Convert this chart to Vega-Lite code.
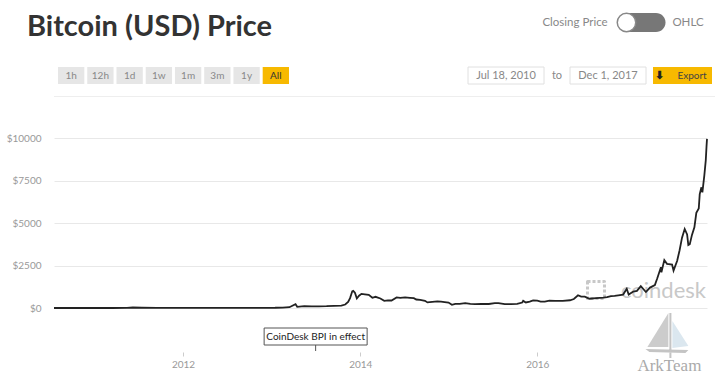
{
  "$schema": "https://vega.github.io/schema/vega-lite/v6.json",
  "background": "white",
  "padding": {"left": 6, "top": 0, "right": 0, "bottom": 0},
  "config": {"view": {"stroke": null}, "font": "Lato"},
  "spacing": 13,
  "vconcat": [
    {
      "spacing": 10,
      "hconcat": [
        {
          "width": 476,
          "height": 53,
          "data": {"values": [{"heading": "Bitcoin (USD) Price"}]},
          "mark": {"type": "text", "align": "left", "baseline": "middle", "dx": -27, "fontSize": 29, "fontWeight": "bold", "color": "#333333"},
          "encoding": {
            "x": {"field": "heading", "type": "nominal", "axis": null, "bandPosition": 0, "scale": {"type": "band", "paddingInner": 0, "paddingOuter": 0}},
            "text": {"field": "heading"}
          }
        },
        {
          "spacing": 4,
          "hconcat": [
            {
              "width": 70,
              "height": 45,
              "data": {"values": [{"label": "Closing Price"}]},
              "mark": {"type": "text", "baseline": "middle", "fontSize": 11.5, "color": "#888888"},
              "encoding": {"text": {"field": "label"}}
            },
            {
              "width": 49,
              "height": 45,
              "data": {"values": [{"control": "toggle", "state": "closing"}]},
              "layer": [
                {
                  "mark": {"type": "point", "shape": "M-14.5,-9.5H14.5A9.5,9.5 0 0 1 14.5,9.5H-14.5A9.5,9.5 0 0 1 -14.5,-9.5Z", "size": 4, "filled": true, "fill": "#777777", "strokeWidth": 0, "opacity": 1},
                  "encoding": {}
                },
                {
                  "mark": {"type": "point", "shape": "circle", "size": 342, "filled": true, "fill": "white", "stroke": "#888888", "strokeWidth": 1.5, "xOffset": -15, "opacity": 1},
                  "encoding": {}
                }
              ]
            },
            {
              "width": 36,
              "height": 45,
              "data": {"values": [{"label": "OHLC"}]},
              "mark": {"type": "text", "baseline": "middle", "fontSize": 11.5, "color": "#888888"},
              "encoding": {"text": {"field": "label"}}
            }
          ]
        }
      ]
    },
    {
      "spacing": 11,
      "vconcat": [
        {
          "spacing": 178,
          "hconcat": [
            {
              "width": 235,
              "height": 17,
              "data": {"values": [
                {"range": "1h", "state": "off"},
                {"range": "12h", "state": "off"},
                {"range": "1d", "state": "off"},
                {"range": "1w", "state": "off"},
                {"range": "1m", "state": "off"},
                {"range": "3m", "state": "off"},
                {"range": "1y", "state": "off"},
                {"range": "All", "state": "on"}
              ]},
              "encoding": {
                "x": {"field": "range", "type": "nominal", "sort": null, "axis": null, "scale": {"type": "band", "paddingInner": 0.1, "paddingOuter": 0.0684, "align": 1}}
              },
              "layer": [
                {
                  "mark": {"type": "rect"},
                  "encoding": {"color": {"field": "state", "type": "nominal", "legend": null, "scale": {"domain": ["off", "on"], "range": ["#e6e6e6", "#f7b900"]}}}
                },
                {
                  "mark": {"type": "text", "fontSize": 10, "baseline": "middle"},
                  "encoding": {
                    "text": {"field": "range"},
                    "color": {"condition": {"test": "datum.state === 'on'", "value": "#333333"}, "value": "#888888"}
                  }
                }
              ]
            },
            {
              "spacing": 6,
              "hconcat": [
                {
                  "width": 76,
                  "height": 17,
                  "data": {"values": [{"label": "Jul 18, 2010"}]},
                  "layer": [
                    {"mark": {"type": "rect", "fill": "white", "stroke": "#e0e0e0", "strokeWidth": 1}, "encoding": {}},
                    {"mark": {"type": "text", "fontSize": 11, "baseline": "middle", "color": "#888888"}, "encoding": {"text": {"field": "label"}}}
                  ]
                },
                {
                  "width": 12,
                  "height": 17,
                  "data": {"values": [{"label": "to"}]},
                  "mark": {"type": "text", "fontSize": 11, "baseline": "middle", "color": "#888888"},
                  "encoding": {"text": {"field": "label"}}
                },
                {
                  "width": 76,
                  "height": 17,
                  "data": {"values": [{"label": "Dec 1, 2017"}]},
                  "layer": [
                    {"mark": {"type": "rect", "fill": "white", "stroke": "#e0e0e0", "strokeWidth": 1}, "encoding": {}},
                    {"mark": {"type": "text", "fontSize": 11, "baseline": "middle", "color": "#888888"}, "encoding": {"text": {"field": "label"}}}
                  ]
                },
                {
                  "width": 59,
                  "height": 17,
                  "data": {"values": [{"label": "Export", "icon": "⬇"}]},
                  "layer": [
                    {"mark": {"type": "rect", "fill": "#f7b900"}, "encoding": {}},
                    {"mark": {"type": "text", "fontSize": 11, "fontWeight": "bold", "baseline": "middle", "color": "#222222", "dx": -23.5}, "encoding": {"text": {"field": "icon"}}},
                    {"mark": {"type": "text", "fontSize": 10, "baseline": "middle", "color": "#444444", "dx": 9.5}, "encoding": {"text": {"field": "label"}}}
                  ]
                }
              ]
            }
          ]
        },
        {
          "spacing": 36,
          "vconcat": [
            {
              "width": 661,
              "height": 1,
              "data": {"values": [{"part": "separator"}]},
              "mark": {"type": "rect", "color": "#eeeeee"},
              "encoding": {}
            },
            {
              "width": 653,
              "height": 170,
              "layer": [
                {
                  "data": {"values": [{"watermark": "coindesk"}]},
                  "mark": {"type": "text", "align": "right", "baseline": "alphabetic", "fontSize": 22, "color": "#c8c8c8", "dx": -1, "dy": -10.5},
                  "encoding": {
                    "x": {"datum": {"year": 2017, "month": 12, "date": 1}, "type": "temporal", "axis": {"title": null}},
                    "y": {"datum": 0, "type": "quantitative", "axis": {"title": null}},
                    "text": {"field": "watermark"}
                  }
                },
                {
                  "data": {"values": [{"watermark": "coindesk logo"}]},
                  "mark": {"type": "point", "shape": "square", "size": 289, "filled": false, "stroke": "#c8c8c8", "strokeWidth": 3, "strokeDash": [3, 2], "strokeJoin": "round", "opacity": 1, "xOffset": -111, "yOffset": -18},
                  "encoding": {
                    "x": {"datum": {"year": 2017, "month": 12, "date": 1}, "type": "temporal", "axis": {"title": null}},
                    "y": {"datum": 0, "type": "quantitative", "axis": {"title": null}}
                  }
                },
                {
                  "data": {"values": [{"watermark": "sail"}]},
                  "mark": {"type": "point", "shape": "M0,-21L-21,13L0,13Z", "size": 4, "filled": true, "fill": "#cccccc", "strokeWidth": 0, "opacity": 1, "xOffset": -38.6, "yOffset": 26},
                  "encoding": {
                    "x": {"datum": {"year": 2017, "month": 12, "date": 1}, "type": "temporal", "axis": {"title": null}},
                    "y": {"datum": 0, "type": "quantitative", "axis": {"title": null}}
                  }
                },
                {
                  "data": {"values": [{"watermark": "sail2"}]},
                  "mark": {"type": "point", "shape": "M4,-13L4,14L20,12Z", "size": 4, "filled": true, "fill": "#dbe7ef", "strokeWidth": 0, "opacity": 1, "xOffset": -38.6, "yOffset": 26},
                  "encoding": {
                    "x": {"datum": {"year": 2017, "month": 12, "date": 1}, "type": "temporal", "axis": {"title": null}},
                    "y": {"datum": 0, "type": "quantitative", "axis": {"title": null}}
                  }
                },
                {
                  "data": {"values": [{"watermark": "hull"}]},
                  "mark": {"type": "point", "shape": "M-23,15L20,16L17,19L-19,18Z M1,-21L3,-21L3,24L1,24Z", "size": 4, "filled": true, "fill": "#c4c4c4", "strokeWidth": 0, "opacity": 1, "xOffset": -38.6, "yOffset": 26},
                  "encoding": {
                    "x": {"datum": {"year": 2017, "month": 12, "date": 1}, "type": "temporal", "axis": {"title": null}},
                    "y": {"datum": 0, "type": "quantitative", "axis": {"title": null}}
                  }
                },
                {
                  "data": {"values": [{"watermark": "ArkTeam"}]},
                  "mark": {"type": "text", "align": "center", "baseline": "alphabetic", "font": "Liberation Serif", "fontSize": 17, "color": "#aaaaaa", "dx": -37.6, "dy": 63},
                  "encoding": {
                    "x": {"datum": {"year": 2017, "month": 12, "date": 1}, "type": "temporal", "axis": {"title": null}},
                    "y": {"datum": 0, "type": "quantitative", "axis": {"title": null}},
                    "text": {"field": "watermark"}
                  }
                },
                {
                  "data": {"values": [
                    {"date": "2010-07-18", "price": 0.09},
                    {"date": "2010-09-15", "price": 0.06},
                    {"date": "2010-11-15", "price": 0.27},
                    {"date": "2011-01-15", "price": 0.4},
                    {"date": "2011-03-15", "price": 0.86},
                    {"date": "2011-05-15", "price": 7},
                    {"date": "2011-06-08", "price": 29.6},
                    {"date": "2011-07-15", "price": 14},
                    {"date": "2011-09-15", "price": 5},
                    {"date": "2011-11-15", "price": 3},
                    {"date": "2012-01-15", "price": 6.5},
                    {"date": "2012-03-15", "price": 5},
                    {"date": "2012-05-15", "price": 5},
                    {"date": "2012-07-15", "price": 8},
                    {"date": "2012-08-17", "price": 13},
                    {"date": "2012-09-15", "price": 11},
                    {"date": "2012-11-15", "price": 11},
                    {"date": "2013-01-15", "price": 14},
                    {"date": "2013-02-15", "price": 26},
                    {"date": "2013-03-15", "price": 47},
                    {"date": "2013-04-09", "price": 230},
                    {"date": "2013-04-16", "price": 70},
                    {"date": "2013-05-15", "price": 115},
                    {"date": "2013-06-15", "price": 100},
                    {"date": "2013-07-15", "price": 98},
                    {"date": "2013-08-15", "price": 105},
                    {"date": "2013-09-15", "price": 126},
                    {"date": "2013-10-15", "price": 145},
                    {"date": "2013-10-31", "price": 204},
                    {"date": "2013-11-12", "price": 355},
                    {"date": "2013-11-20", "price": 580},
                    {"date": "2013-11-29", "price": 980},
                    {"date": "2013-12-03", "price": 1010},
                    {"date": "2013-12-10", "price": 900},
                    {"date": "2013-12-18", "price": 560},
                    {"date": "2013-12-27", "price": 720},
                    {"date": "2014-01-06", "price": 830},
                    {"date": "2014-01-20", "price": 800},
                    {"date": "2014-02-05", "price": 770},
                    {"date": "2014-02-20", "price": 600},
                    {"date": "2014-03-05", "price": 660},
                    {"date": "2014-03-25", "price": 560},
                    {"date": "2014-04-10", "price": 420},
                    {"date": "2014-04-25", "price": 450},
                    {"date": "2014-05-10", "price": 440},
                    {"date": "2014-05-31", "price": 620},
                    {"date": "2014-06-15", "price": 600},
                    {"date": "2014-07-05", "price": 630},
                    {"date": "2014-07-25", "price": 600},
                    {"date": "2014-08-10", "price": 580},
                    {"date": "2014-08-20", "price": 500},
                    {"date": "2014-09-05", "price": 480},
                    {"date": "2014-09-25", "price": 420},
                    {"date": "2014-10-05", "price": 330},
                    {"date": "2014-10-25", "price": 360},
                    {"date": "2014-11-15", "price": 390},
                    {"date": "2014-11-30", "price": 375},
                    {"date": "2014-12-15", "price": 350},
                    {"date": "2014-12-31", "price": 320},
                    {"date": "2015-01-14", "price": 190},
                    {"date": "2015-01-28", "price": 245},
                    {"date": "2015-02-15", "price": 240},
                    {"date": "2015-03-10", "price": 290},
                    {"date": "2015-03-31", "price": 245},
                    {"date": "2015-04-20", "price": 225},
                    {"date": "2015-05-15", "price": 237},
                    {"date": "2015-06-15", "price": 235},
                    {"date": "2015-07-10", "price": 290},
                    {"date": "2015-07-25", "price": 290},
                    {"date": "2015-08-20", "price": 230},
                    {"date": "2015-09-15", "price": 230},
                    {"date": "2015-10-10", "price": 245},
                    {"date": "2015-10-31", "price": 320},
                    {"date": "2015-11-04", "price": 420},
                    {"date": "2015-11-15", "price": 325},
                    {"date": "2015-12-01", "price": 370},
                    {"date": "2015-12-15", "price": 450},
                    {"date": "2016-01-01", "price": 430},
                    {"date": "2016-01-15", "price": 380},
                    {"date": "2016-02-01", "price": 375},
                    {"date": "2016-02-20", "price": 430},
                    {"date": "2016-03-15", "price": 415},
                    {"date": "2016-04-15", "price": 425},
                    {"date": "2016-05-15", "price": 455},
                    {"date": "2016-05-31", "price": 530},
                    {"date": "2016-06-17", "price": 750},
                    {"date": "2016-06-30", "price": 670},
                    {"date": "2016-07-15", "price": 665},
                    {"date": "2016-08-03", "price": 545},
                    {"date": "2016-08-31", "price": 575},
                    {"date": "2016-09-30", "price": 610},
                    {"date": "2016-10-15", "price": 640},
                    {"date": "2016-10-31", "price": 700},
                    {"date": "2016-11-15", "price": 710},
                    {"date": "2016-11-30", "price": 742},
                    {"date": "2016-12-20", "price": 790},
                    {"date": "2017-01-04", "price": 1130},
                    {"date": "2017-01-12", "price": 790},
                    {"date": "2017-01-31", "price": 970},
                    {"date": "2017-02-15", "price": 1010},
                    {"date": "2017-03-03", "price": 1280},
                    {"date": "2017-03-24", "price": 940},
                    {"date": "2017-04-10", "price": 1200},
                    {"date": "2017-04-30", "price": 1350},
                    {"date": "2017-05-10", "price": 1750},
                    {"date": "2017-05-25", "price": 2400},
                    {"date": "2017-05-27", "price": 2100},
                    {"date": "2017-06-08", "price": 2820},
                    {"date": "2017-06-19", "price": 2600},
                    {"date": "2017-07-10", "price": 2550},
                    {"date": "2017-07-16", "price": 2200},
                    {"date": "2017-07-31", "price": 2780},
                    {"date": "2017-08-10", "price": 3400},
                    {"date": "2017-08-20", "price": 4140},
                    {"date": "2017-08-31", "price": 4650},
                    {"date": "2017-09-10", "price": 4330},
                    {"date": "2017-09-15", "price": 3700},
                    {"date": "2017-09-21", "price": 3750},
                    {"date": "2017-09-30", "price": 4300},
                    {"date": "2017-10-10", "price": 4750},
                    {"date": "2017-10-18", "price": 5600},
                    {"date": "2017-10-28", "price": 5850},
                    {"date": "2017-11-01", "price": 6700},
                    {"date": "2017-11-08", "price": 7100},
                    {"date": "2017-11-12", "price": 6800},
                    {"date": "2017-11-20", "price": 7800},
                    {"date": "2017-11-26", "price": 8700},
                    {"date": "2017-11-29", "price": 9500},
                    {"date": "2017-12-01", "price": 9950}
                  ]},
                  "mark": {"type": "line", "color": "#222222", "strokeWidth": 1.8},
                  "encoding": {
                    "x": {
                      "field": "date", "type": "temporal",
                      "scale": {"domain": [{"year": 2010, "month": 7, "date": 18}, {"year": 2017, "month": 12, "date": 1}]},
                      "axis": {
                        "title": null, "format": "%Y", "grid": false, "domain": false,
                        "values": [{"year": 2012, "month": 1, "date": 1}, {"year": 2014, "month": 1, "date": 1}, {"year": 2016, "month": 1, "date": 1}],
                        "tickSize": 4, "tickColor": "#cccccc", "labelColor": "#999999", "labelFontSize": 10, "labelPadding": 3, "offset": 44
                      }
                    },
                    "y": {
                      "field": "price", "type": "quantitative",
                      "scale": {"domain": [0, 10000], "nice": false},
                      "axis": {
                        "title": null, "values": [0, 2500, 5000, 7500, 10000], "labelExpr": "'$' + datum.value",
                        "domain": false, "ticks": false, "grid": true, "gridColor": "#e8e8e8",
                        "labelColor": "#999999", "labelFontSize": 10, "labelPadding": 13
                      }
                    }
                  }
                },
                {
                  "data": {"values": [{"date": "2013-07-01", "note": "CoinDesk BPI in effect"}]},
                  "mark": {"type": "point", "shape": "M-51.5,-8.5H51.5V8.5H-51.5Z M0,8.5V14.5", "size": 4, "filled": true, "fill": "white", "stroke": "#555555", "strokeWidth": 1, "strokeJoin": "round", "opacity": 1, "yOffset": 28.5},
                  "encoding": {
                    "x": {"field": "date", "type": "temporal", "axis": {"title": null}},
                    "y": {"datum": 0, "type": "quantitative", "axis": {"title": null}}
                  }
                },
                {
                  "data": {"values": [{"date": "2013-07-01", "note": "CoinDesk BPI in effect"}]},
                  "mark": {"type": "text", "baseline": "middle", "fontSize": 10, "color": "#222222", "dy": 28.5},
                  "encoding": {
                    "x": {"field": "date", "type": "temporal", "axis": {"title": null}},
                    "y": {"datum": 0, "type": "quantitative", "axis": {"title": null}},
                    "text": {"field": "note"}
                  }
                }
              ]
            }
          ]
        }
      ]
    }
  ]
}
